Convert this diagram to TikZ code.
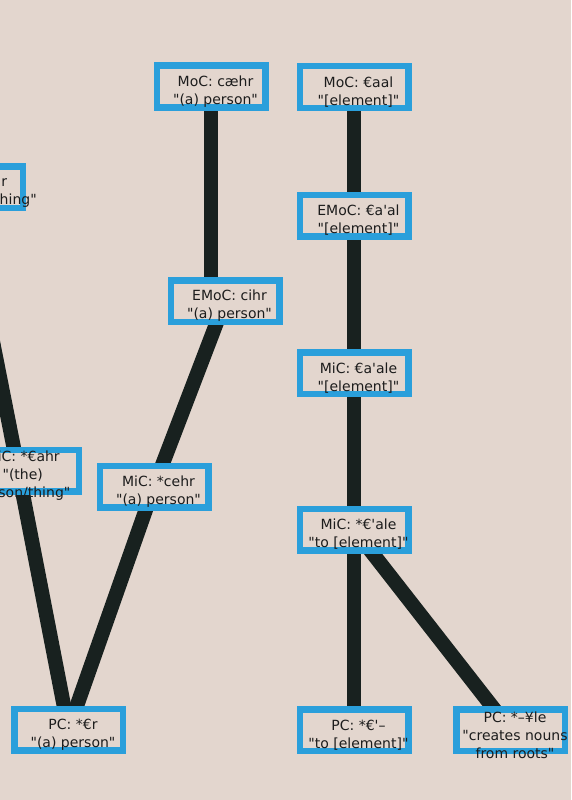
\documentclass[tikz,border=0pt]{standalone}
\usepackage{fontspec}
\setmainfont{DejaVu Sans}[Ligatures=TeXOff]
\usetikzlibrary{backgrounds}
\definecolor{paper}{HTML}{E3D6CE}
\definecolor{frame}{HTML}{2A9FDB}
\definecolor{branch}{HTML}{18211F}
\definecolor{ink}{HTML}{1C1C1C}
\tikzset{
    gloss/.style={align=center, font=\fontsize{14}{18}\selectfont, text=ink, xshift=4.5pt, yshift=-5pt},
    word/.style={draw=frame, line width=6.5pt, fill=paper, inner sep=0pt,
        minimum width=108.5pt, minimum height=41.5pt, label={[gloss]center:{#1}}},
    wide word/.style={word=#1, minimum width=121pt},
    link/.style={draw=branch, line width=14.5pt}
}

\begin{document}
\begin{tikzpicture}[x=1pt, y=-1pt]
        \useasboundingbox (0,0) rectangle (571,800);
        %Words, left tree
        \node[wide word={EMoC: €ahr\\"(the) person/thing"}] (ahrE) at (-37.75,187) {};
        \node[wide word={MiC: *€ahr\\"(the)\\person/thing"}] (ahrMi) at (18.25,470.5) {};
        \node[word={MoC: cæhr\\"(a) person"}] (cahrMo) at (211,86.5) {};
        \node[word={EMoC: cihr\\"(a) person"}] (cihrE) at (225,301) {};
        \node[word={MiC: *cehr\\"(a) person"}] (cehrMi) at (154,486.5) {};
        \node[word={PC: *€r\\"(a) person"}] (rPC) at (68.5,729.5) {};
        %Words, right tree
        \node[word={MoC: €aal\\"[element]"}] (aalMo) at (354,87) {};
        \node[word={EMoC: €a'al\\"[element]"}] (aalE) at (354,215.5) {};
        \node[word={MiC: €a'ale\\"[element]"}] (aleMi) at (354,373) {};
        \node[word={MiC: *€'ale\\"to [element]"}] (aleMiB) at (354,529.5) {};
        \node[word={PC: *€'–\\"to [element]"}] (elPC) at (354,730) {};
        \node[word={PC: *–¥le\\"creates nouns\\from roots"}] (lePC) at (510.5,730) {};
        %Branches (behind the words)
        \begin{pgfonlayer}{background}
            \fill[paper] (0,0) rectangle (571,800);
            \path[link] (ahrE.center) -- (ahrMi.center) -- (rPC.center);
            \path[link] (cahrMo.center) -- (cahrMo |- cihrE.center);
            \path[link] (cihrE.center) -- (cehrMi.center) -- (rPC.center);
            \path[link] (aalMo.center) -- (aalE.center) -- (aleMi.center) -- (aleMiB.center) -- (elPC.center);
            \path[link] (aleMiB.center) -- (lePC.center);
        \end{pgfonlayer}
\end{tikzpicture}
\end{document}
